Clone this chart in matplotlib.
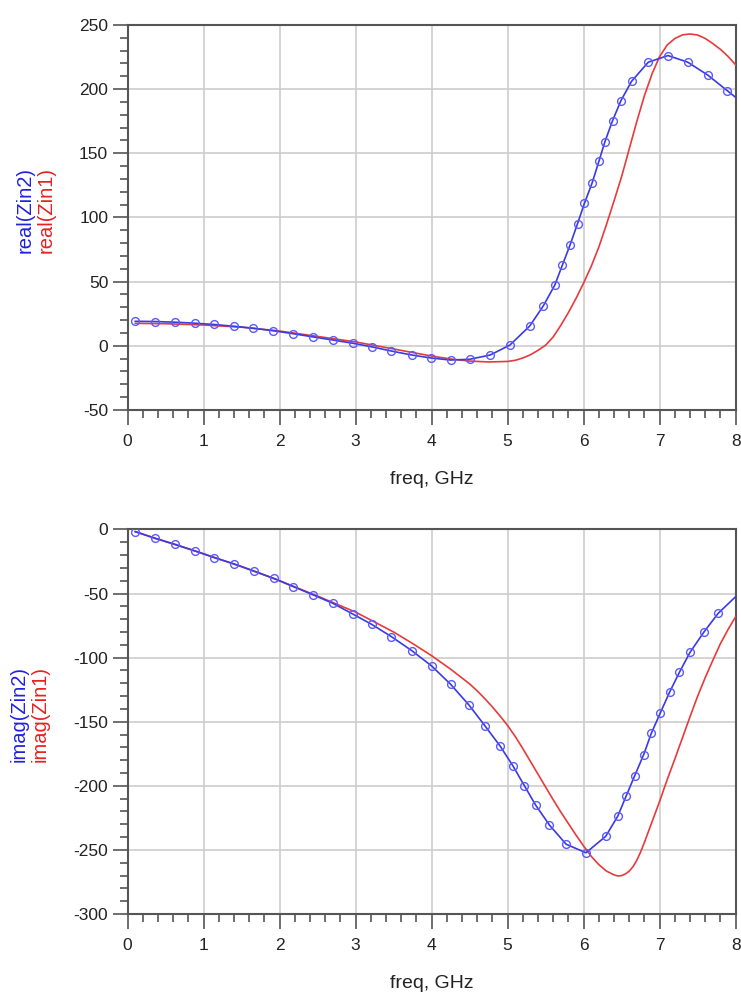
import numpy as np
import matplotlib
matplotlib.use("Agg")
import matplotlib.pyplot as plt
from matplotlib.ticker import MultipleLocator

plt.rcParams['font.family'] = ['Liberation Sans', 'DejaVu Sans']
plt.rcParams['axes.unicode_minus'] = False

# Zin2 trace (blue, with symbols) - symbol positions, then trace end at 8 GHz
re2_f = [0.10, 0.36, 0.62, 0.89, 1.14, 1.40, 1.65, 1.91, 2.17, 2.44, 2.70, 2.96,
         3.22, 3.47, 3.74, 3.99, 4.25, 4.50, 4.77, 5.03, 5.29, 5.47, 5.62, 5.72,
         5.82, 5.92, 6.01, 6.11, 6.20, 6.28, 6.38, 6.49, 6.63, 6.85, 7.11, 7.37,
         7.63, 7.89]
re2_v = [19.1, 18.9, 18.4, 17.6, 16.6, 15.2, 13.7, 11.8, 9.5, 6.9, 4.5, 2.0,
         -0.9, -4.1, -7.2, -9.5, -11.1, -10.5, -7.2, 0.6, 15.4, 31.2, 47.3, 62.9,
         78.4, 95.3, 111.0, 126.7, 143.7, 159.1, 175.4, 191.0, 206.1, 221.0, 226.2, 221.0,
         211.1, 198.8]
re2_end = (8.0, 193.6)

im2_f = [0.10, 0.36, 0.62, 0.89, 1.14, 1.40, 1.66, 1.92, 2.18, 2.44, 2.70, 2.96,
         3.21, 3.47, 3.74, 4.00, 4.25, 4.49, 4.70, 4.90, 5.07, 5.22, 5.37, 5.55,
         5.77, 6.03, 6.29, 6.45, 6.56, 6.67, 6.79, 6.89, 7.01, 7.13, 7.26, 7.40,
         7.58, 7.77]
im2_v = [-1.7, -6.9, -11.5, -16.8, -22.0, -26.9, -32.4, -38.1, -44.6, -51.0, -57.6, -65.9,
         -74.0, -83.6, -94.6, -106.5, -120.8, -136.9, -153.1, -168.9, -184.5, -199.9, -215.2, -230.6,
         -245.6, -252.2, -239.4, -223.5, -207.8, -192.3, -175.6, -159.0, -142.9, -127.0, -111.4, -95.8,
         -80.2, -65.4]
im2_end = (8.0, -52.4)

# Zin1 trace (red)
re1_f = [0.1, 0.5, 1.0, 1.5, 2.0, 2.5, 3.0, 3.5, 4.0, 4.25, 4.5, 4.75, 5.0, 5.1,
         5.2, 5.3, 5.4, 5.5, 5.6, 5.7, 5.8, 5.9, 6.0, 6.1, 6.2, 6.3, 6.4, 6.5,
         6.6, 6.7, 6.8, 6.9, 7.0, 7.1, 7.2, 7.3, 7.4, 7.5, 7.6, 7.7, 7.8, 7.9, 8.0]
re1_v = [17.5, 17.2, 16.2, 14.5, 11.5, 7.3, 3.0, -2.5, -8.0, -10.3, -11.9, -12.6, -12.2, -11.3,
         -9.5, -7.0, -3.5, 0.5, 7.0, 16.0, 26.0, 37.0, 49.0, 62.0, 77.0, 94.5, 113.0, 132.0,
         153.5, 175.0, 195.0, 212.0, 225.5, 234.5, 239.5, 242.3, 243.0, 242.2, 239.5, 235.5, 231.0, 225.5, 219.0]

im1_f = [0.1, 0.5, 1.0, 1.5, 2.0, 2.5, 3.0, 3.5, 3.75, 4.0, 4.25, 4.5, 4.6, 4.7,
         4.8, 4.9, 5.0, 5.1, 5.2, 5.3, 5.4, 5.5, 5.6, 5.7, 5.8, 5.9, 6.0, 6.1,
         6.2, 6.3, 6.4, 6.45, 6.5, 6.55, 6.6, 6.65, 6.7, 6.75, 6.8, 6.85, 6.9, 7.0,
         7.1, 7.2, 7.3, 7.4, 7.5, 7.6, 7.7, 7.8, 7.9, 8.0]
im1_v = [-1.7, -9.5, -19.0, -29.0, -40.0, -52.0, -64.5, -80.0, -89.0, -98.5, -109.0, -120.5, -126.0, -132.0,
         -138.5, -145.5, -153.0, -161.5, -171.0, -181.0, -191.0, -201.0, -211.0, -220.5, -229.5, -238.5, -247.0, -255.0,
         -261.5, -266.5, -269.5, -270.3, -270.0, -268.7, -266.5, -263.0, -258.0, -251.5, -244.0, -236.0, -228.0, -212.0,
         -195.0, -179.0, -162.5, -146.0, -130.0, -115.5, -102.0, -89.0, -78.0, -68.0]

BLUE = '#3a3ae0'
RED = '#e83a3a'
FRAME = '#555555'

fig = plt.figure(figsize=(7.41, 9.96), dpi=100)


def draw_panel(ax, f2, v2, end2, f1, v1, ylim):
    ax.plot(f1, v1, color=RED, lw=1.2, zorder=3)
    n = len(f2)
    ax.plot(np.append(f2, end2[0]), np.append(v2, end2[1]), color=BLUE, lw=1.2,
            marker='o', markevery=list(range(n)), ms=5.6, mfc='none',
            mec='#5a5aff', mew=1.0, zorder=4)
    ax.set_xlim(0, 8)
    ax.set_ylim(*ylim)
    ax.xaxis.set_major_locator(MultipleLocator(1))
    ax.xaxis.set_minor_locator(MultipleLocator(0.2))
    ax.yaxis.set_major_locator(MultipleLocator(50))
    ax.yaxis.set_minor_locator(MultipleLocator(10))
    ax.grid(True, which='major', color='#cdcdcd', lw=1.2)
    ax.set_axisbelow(True)
    for s in ax.spines.values():
        s.set_color(FRAME)
        s.set_linewidth(1.5)
    ax.tick_params(which='major', length=11, width=1.2, color=FRAME,
                   labelsize=12.5, labelcolor='#222222')
    ax.tick_params(axis='y', which='major', pad=3)
    ax.tick_params(axis='x', which='major', pad=6)
    ax.tick_params(which='minor', length=6, width=1.2, color=FRAME)
    ax.set_xlabel('freq, GHz', fontsize=14, color='#222222', labelpad=16)


def ylabel_pair(x_blue, x_red, y_mid, blue_txt, red_txt):
    fig.text(x_blue / 741, 1 - y_mid / 996, blue_txt, rotation=90, color='#2020e0',
             fontsize=14.5, ha='center', va='center')
    fig.text(x_red / 741, 1 - y_mid / 996, red_txt, rotation=90, color='#e82020',
             fontsize=14.5, ha='center', va='center')


ax1 = fig.add_axes([0.1723, 0.5884, 0.8205, 0.3865])
draw_panel(ax1, re2_f, re2_v, re2_end, re1_f, re1_v, (-50, 250))
ylabel_pair(25, 46, 210, 'real(Zin2)', 'real(Zin1)')

ax2 = fig.add_axes([0.1723, 0.0823, 0.8205, 0.3861])
draw_panel(ax2, im2_f, im2_v, im2_end, im1_f, im1_v, (-300, 0))
ylabel_pair(19, 40, 714, 'imag(Zin2)', 'imag(Zin1)')

fig.savefig('out.png', dpi=100, facecolor='white')
